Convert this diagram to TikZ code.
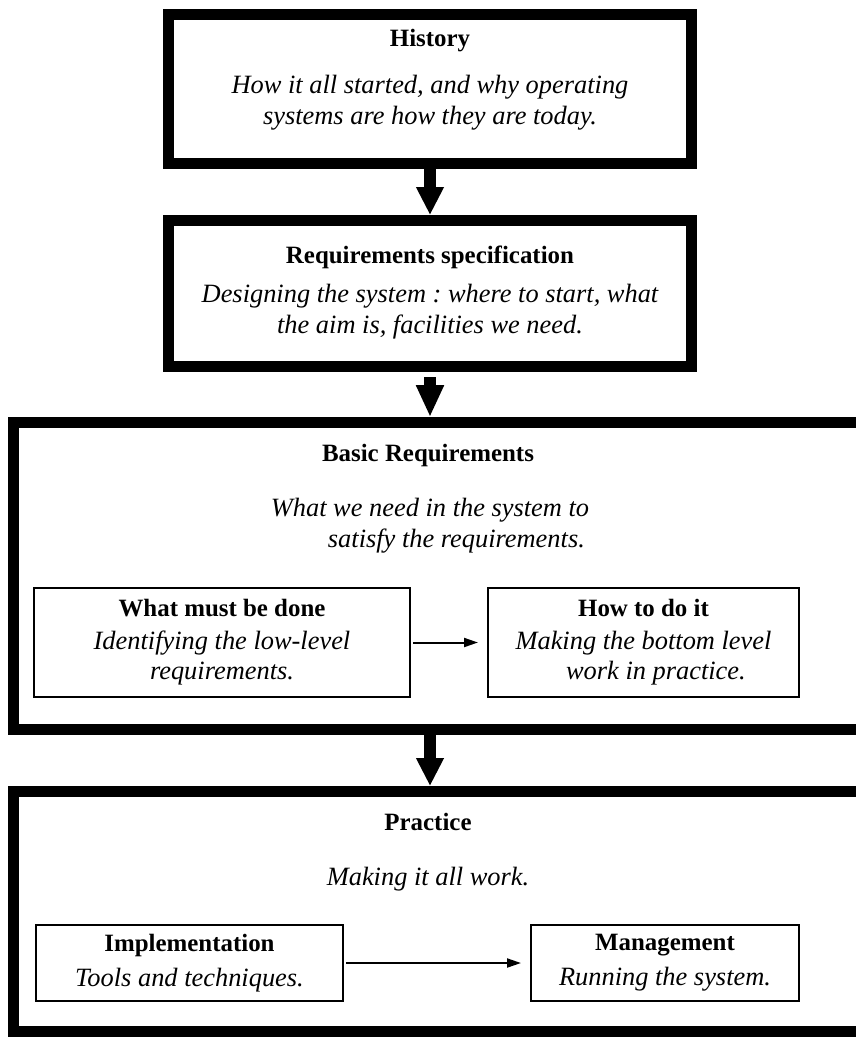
\documentclass[tikz,border=0pt]{standalone}
\usepackage{fontspec}
\setmainfont{Liberation Serif}
\usetikzlibrary{arrows.meta,positioning}
\frenchspacing

\tikzset{
	bigbox/.style={draw, line width=11bp, inner sep=0pt},
	smallbox/.style={draw, line width=2bp, align=center, inner sep=0pt,
		font=\fontsize{25}{30}\selectfont},
	title/.style={font=\fontsize{25}{30}\selectfont\bfseries, inner sep=0pt},
	note/.style={font=\fontsize{26.5}{31}\selectfont\itshape, align=center, inner sep=0pt},
	fatarrow/.style={line width=12bp, -{Triangle[length=28bp,width=26bp]}},
	thinarrow/.style={line width=2bp, -{Triangle[length=14bp,width=9bp]},
		shorten <=2bp, shorten >=9bp}
}
\newcommand{\ital}[1]{{\fontsize{26.5}{31}\selectfont\itshape #1}}

\begin{document}
\begin{tikzpicture}[x=1bp, y=-1bp]
		\useasboundingbox (0,0) rectangle (856,1037);
		% Define nodes
		\node[bigbox, minimum width=523bp, minimum height=149bp] (history) at (430,89) {};
		\node[title] (historyT) at (430,41) {History};
		\node[note] (historyN) at (430,103) {How it all started, and why operating\\systems are how they are today.};

		\node[bigbox, minimum width=523bp, minimum height=146bp] (req) at (430,293.5) {};
		\node[title] (reqT) at (430,257) {Requirements specification};
		\node[note] (reqN) at (430,312) {Designing the system : where to start, what\\the aim is, facilities we need.};

		\node[bigbox, minimum width=851bp, minimum height=307bp] (basic) at (439,576) {};
		\node[title] (basicT) at (428,456) {Basic Requirements};
		\node[note] (basicN) at (430,526) {What we need in the system to\\\hspace*{2em}satisfy the requirements.};
		\node[smallbox, minimum width=376bp, minimum height=109bp] (what) at (222,642.5)
			{\textbf{What must be done}\\[3bp]\ital{Identifying the low-level}\\\ital{requirements.}};
		\node[smallbox, minimum width=311bp, minimum height=109bp] (how) at (643.5,642.5)
			{\textbf{How to do it}\\[3bp]\ital{Making the bottom level}\\\hspace*{1em}\ital{work in practice.}};

		\node[bigbox, minimum width=851bp, minimum height=240bp] (practice) at (439,911.5) {};
		\node[title] (practiceT) at (428,822) {Practice};
		\node[note] (practiceN) at (428,879) {Making it all work.};
		\node[smallbox, minimum width=307bp, minimum height=76bp] (impl) at (189.5,963)
			{\textbf{Implementation}\\[5bp]\ital{Tools and techniques.}};
		\node[smallbox, minimum width=268bp, minimum height=76bp] (mgmt) at (665,963)
			{\textbf{Management}\\[5bp]\ital{Running the system.}};

		% Connectors
		\draw[fatarrow] (history) -- (req);
		\draw[fatarrow, shorten <=5bp, -{Triangle[length=32bp,width=26bp]}] (req.south) -- (req.south |- basic.north);
		\draw[fatarrow] (req.south |- basic.south) -- (req.south |- practice.north);
		\draw[thinarrow] (what) -- (how);
		\draw[thinarrow] (impl) -- (mgmt);
	\end{tikzpicture}
\end{document}
